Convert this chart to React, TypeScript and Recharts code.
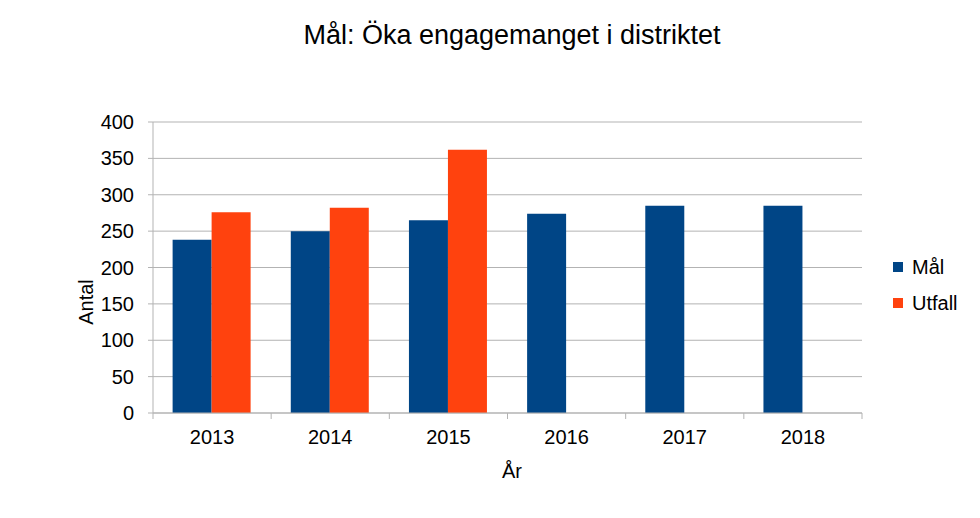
import React from 'react';
import { BarChart, Bar, XAxis, YAxis, CartesianGrid } from 'recharts';

const years = ['2013', '2014', '2015', '2016', '2017', '2018'];
const malValues = [238, 250, 265, 274, 285, 285];
const utfallValues = [276, 282, 362, null, null, null];
const yTicks = [0, 50, 100, 150, 200, 250, 300, 350, 400];

const seriesNames = ['Mål', 'Utfall'];
const seriesColors = ['#004586', '#ff420e'];

const data = years.map((y, i) => ({ year: y, mal: malValues[i], utfall: utfallValues[i] }));

const FONT = '"Liberation Sans", Arial, sans-serif';
const GRID = '#b3b3b3';
const X_TICK_SIZE = 6;
const X_TICK_MARGIN = 11;

const CategoryTick = (props: any) => {
  const { x, y, width, payload, index, visibleTicksCount } = props;
  const count = visibleTicksCount || years.length;
  const band = width / count;
  const axisY = y - X_TICK_SIZE - X_TICK_MARGIN;
  const left = x - band / 2;
  const right = x + band / 2;
  return (
    <g>
      <line x1={left} x2={left} y1={axisY} y2={axisY + X_TICK_SIZE} stroke={GRID} />
      {index === count - 1 && <line x1={right} x2={right} y1={axisY} y2={axisY + X_TICK_SIZE} stroke={GRID} />}
      <text x={x} y={y} dy="0.71em" textAnchor="middle" fill="#000" fontSize={20} fontFamily={FONT}>
        {payload.value}
      </text>
    </g>
  );
};

export default function App() {
  return (
    <div style={{ position: 'absolute', left: 0, top: 0, width: 980, height: 518, background: '#fff', fontFamily: FONT }}>
      <div style={{ position: 'absolute', left: 0, width: 1024, top: 20, textAlign: 'center', fontSize: 27, color: '#000', lineHeight: '30px' }}>
        Mål: Öka engagemanget i distriktet
      </div>
      <BarChart
        width={980}
        height={518}
        data={data}
        margin={{ top: 122, right: 118, left: 93, bottom: 75 }}
        barCategoryGap="16.6%"
        barGap={0}
        style={{ fontFamily: FONT }}
      >
        <CartesianGrid vertical={false} stroke={GRID} strokeWidth={1} />
        <XAxis
          dataKey="year"
          interval={0}
          tickLine={false}
          axisLine={{ stroke: GRID }}
          tick={CategoryTick}
          tickSize={X_TICK_SIZE}
          tickMargin={X_TICK_MARGIN}
          height={30}
        />
        <YAxis
          domain={[0, 400]}
          ticks={yTicks}
          interval={0}
          axisLine={{ stroke: GRID }}
          tickLine={{ stroke: GRID }}
          tickSize={5}
          tickMargin={14}
          tick={{ fill: '#000', fontSize: 20, fontFamily: FONT }}
          width={60}
        />
        <YAxis
          yAxisId="right"
          orientation="right"
          domain={[0, 400]}
          tick={false}
          tickLine={false}
          axisLine={{ stroke: GRID }}
          width={0}
        />
        <Bar dataKey="mal" name={seriesNames[0]} fill={seriesColors[0]} isAnimationActive={false} />
        <Bar dataKey="utfall" name={seriesNames[1]} fill={seriesColors[1]} isAnimationActive={false} />
      </BarChart>
      <div style={{ position: 'absolute', left: 86, top: 302, width: 50, height: 24, marginLeft: -25, marginTop: -12, transform: 'rotate(-90deg)', fontSize: 20, lineHeight: '24px', textAlign: 'center', color: '#000' }}>
        Antal
      </div>
      <div style={{ position: 'absolute', left: 487, width: 50, top: 459, fontSize: 20, lineHeight: '24px', textAlign: 'center', color: '#000' }}>
        År
      </div>
      {seriesNames.map((n, i) => (
        <div key={n} style={{ position: 'absolute', left: 893, top: 255 + i * 36, height: 24, display: 'flex', alignItems: 'center', fontSize: 20, color: '#000' }}>
          <span style={{ display: 'inline-block', width: 10, height: 10, background: seriesColors[i], marginRight: 9 }} />
          <span style={{ lineHeight: '24px' }}>{n}</span>
        </div>
      ))}
    </div>
  );
}
